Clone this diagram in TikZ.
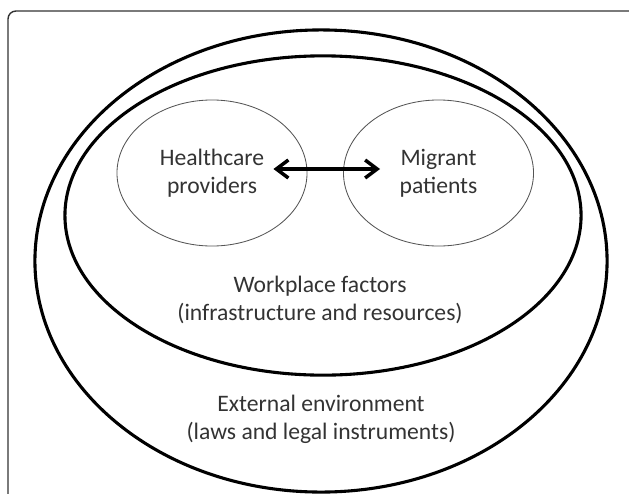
\documentclass[tikz,border=0pt]{standalone}
\usepackage{fontspec}
\setmainfont{Carlito}
\usetikzlibrary{shapes.geometric,arrows.meta}

\definecolor{framegray}{HTML}{333333}
\definecolor{ringgray}{HTML}{555555}
\definecolor{textgray}{HTML}{333333}

\begin{document}
\begin{tikzpicture}[x=0.025cm,y=-0.025cm]
    \useasboundingbox (0,0) rectangle (629,493);
    \clip (0,0) rectangle (629,493);
    \begin{scope}[ring/.style={draw, ellipse, line width=2.2pt, inner sep=0pt},
                  party/.style={draw=ringgray, ellipse, line width=0.6pt, inner sep=0pt, minimum width=4.75cm, minimum height=3.65cm, align=center, text=textgray, font=\fontsize{16.8}{20}\selectfont},
                  lbl/.style={align=center, text=textgray, font=\fontsize{16.8}{20}\selectfont}]
        \draw[framegray, line width=1pt, rounded corners=0.2cm] (8,11) rectangle (660,530);
        \node[ring, minimum width=14.3cm, minimum height=11.55cm] (env) at (321,261) {};
        \node[ring, minimum width=12.9cm, minimum height=7.98cm] (work) at (323,215.5) {};
        \node[party] (hp) at (212,173) {Healthcare\\providers};
        \node[party] (mp) at (438.5,173) {Migrant\\patients};
        \begin{scope}[line width=2.5pt]
        \path[{Straight Barb[length=0.3cm,width=0.45cm]}-{Straight Barb[length=0.3cm,width=0.45cm]}] ([xshift=-0.85cm,yshift=0.1cm]hp.east) edge ([xshift=0.925cm,yshift=0.1cm]mp.west) ;
        \end{scope}
        \node[lbl] (worktext) at (320,300) {Workplace factors\\(infrastructure and resources)};
        \node[lbl] (envtext) at (321,419) {External environment\\(laws and legal instruments)};
    \end{scope}
\end{tikzpicture}
\end{document}
